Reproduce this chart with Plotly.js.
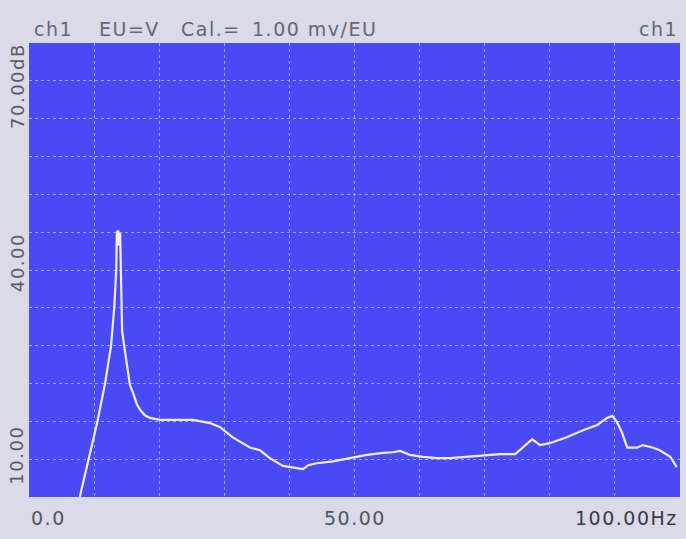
<!DOCTYPE html>
<html>
<head>
<meta charset="utf-8">
<script src="https://cdn.plot.ly/plotly-3.0.1.min.js"></script>
<style>
html,body{margin:0;padding:0;background:#dadae8;}
#chart{width:686px;height:539px;}
.annotation-text{letter-spacing:1.5px;}
</style>
</head>
<body>
<div id="chart"></div>
<script>
// Frequency (Hz) and level (dB)
const freqHz = [7.8, 9.1, 10.5, 11.7, 12.6, 13.1, 13.4, 13.5, 13.7, 13.8, 14.0, 14.1, 14.3, 14.6, 15.1, 15.5, 16.0, 16.6, 17.1, 17.8, 18.6, 20.1, 22.4, 25.2, 27.8, 29.3, 31.3, 34.0, 35.5, 37.0, 39.0, 40.6, 42.1, 42.9, 44.2, 46.7, 49.3, 51.9, 54.4, 55.9, 57.0, 58.5, 60.5, 62.7, 64.7, 67.3, 69.7, 72.4, 74.7, 75.9, 77.3, 78.5, 80.0, 82.6, 85.1, 87.3, 88.8, 89.6, 90.3, 91.1, 91.9, 93.4, 94.3, 95.9, 96.9, 98.5, 99.5];
const levelDb = [0.0, 5.7, 11.6, 17.6, 23.3, 29.3, 35.0, 40.8, 41.1, 38.8, 40.7, 35.7, 25.7, 23.4, 20.0, 17.3, 16.0, 14.2, 13.4, 12.6, 12.2, 11.9, 11.9, 11.9, 11.4, 10.8, 9.2, 7.6, 7.2, 6.0, 4.8, 4.5, 4.3, 4.9, 5.2, 5.5, 6.0, 6.5, 6.8, 6.9, 7.1, 6.5, 6.2, 6.0, 6.0, 6.2, 6.3, 6.6, 6.6, 7.7, 8.9, 8.0, 8.3, 9.2, 10.3, 11.1, 12.2, 12.5, 11.6, 9.9, 7.6, 7.6, 8.0, 7.6, 7.2, 6.2, 4.6];

const headerTexts = ["ch1", "EU=V", "Cal.=", "1.00 mv/EU", "ch1"];
const yTickLabels = ["70.00dB", "40.00", "10.00"];
const yTickValues = [70, 40, 10];
const xTickLabels = ["0.0", "50.00", "100.00Hz"];
const xTickValues = [0, 50, 100];

const font = '"DejaVu Sans", sans-serif';
const hdrColor = '#666678';

const trace = {
  x: freqHz, y: levelDb, type: 'scatter', mode: 'lines',
  line: {color: '#f3ecff', width: 2.2},
  hoverinfo: 'skip'
};

const annotations = [];
const headerX = [0.005, 0.105, 0.23, 0.34, 1.0];
const headerAnchor = ['left','left','left','left','right'];
headerTexts.forEach((t, i) => annotations.push({
  text: t, xref: 'paper', yref: 'paper', x: headerX[i], y: 1.0, yshift: 1,
  xanchor: headerAnchor[i], yanchor: 'bottom', showarrow: false,
  font: {family: font, size: 19, color: hdrColor}
}));
const yShifts = [2, 6, 8];
yTickLabels.forEach((t, i) => annotations.push({
  text: t, xref: 'paper', yref: 'y', x: 0, xshift: -12, y: yTickValues[i], yshift: yShifts[i],
  xanchor: 'center', yanchor: 'top', textangle: -90, showarrow: false,
  font: {family: font, size: 18, color: '#5a5a66'}
}));
const xAnchor = ['left', 'center', 'right'];
const xColors = ['#55555f', '#55555f', '#3a3a42'];
xTickLabels.forEach((t, i) => annotations.push({
  text: t, xref: 'x', yref: 'paper', x: xTickValues[i], y: 0, yshift: -8,
  xanchor: xAnchor[i], yanchor: 'top', showarrow: false,
  font: {family: font, size: 19, color: xColors[i]}
}));

const layout = {
  width: 686, height: 539,
  margin: {l: 29, r: 6, t: 43, b: 42},
  paper_bgcolor: '#dadae8',
  plot_bgcolor: '#4a4af4',
  showlegend: false,
  xaxis: {
    range: [0, 100], dtick: 10, tick0: 0,
    showgrid: true, gridcolor: 'rgba(165,180,255,0.85)', gridwidth: 1, griddash: 'dot',
    zeroline: false, showticklabels: false, ticks: '', showline: false, fixedrange: true
  },
  yaxis: {
    range: [0, 70], dtick: 70/12, tick0: 0,
    showgrid: true, gridcolor: 'rgba(165,180,255,0.85)', gridwidth: 1, griddash: 'dot',
    zeroline: false, showticklabels: false, ticks: '', showline: false, fixedrange: true
  },
  annotations: annotations
};

Plotly.newPlot('chart', [trace], layout, {displayModeBar: false, staticPlot: true});
</script>
</body>
</html>
